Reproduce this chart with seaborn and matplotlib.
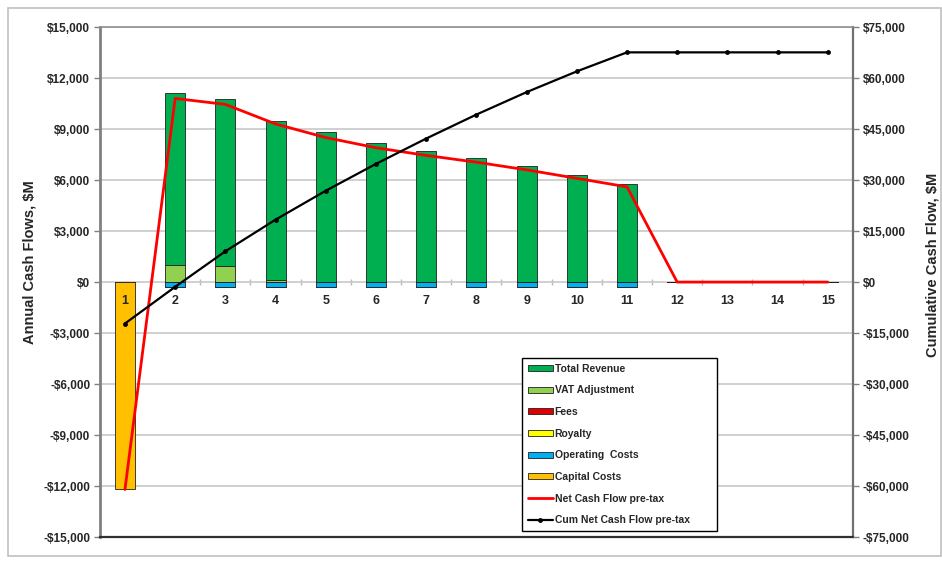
import numpy as np
import pandas as pd
import seaborn as sns
import matplotlib.pyplot as plt
from matplotlib.patches import Rectangle
from matplotlib.ticker import FuncFormatter, MultipleLocator

# ----------------------------------------------------------------------
# DATA ($M)
# ----------------------------------------------------------------------
years = [str(y) for y in range(1, 16)]
total_revenue = [0, 10100, 9800, 9350, 8800, 8180, 7700, 7300, 6800, 6300, 5760, 0, 0, 0, 0]
vat_adjustment = [0, 1000, 950, 150, 0, 0, 0, 0, 0, 0, 0, 0, 0, 0, 0]
fees = [0] * 15
royalty = [0] * 15
operating_costs = [0, -300, -300, -300, -300, -300, -300, -300, -300, -300, -300, 0, 0, 0, 0]
capital_costs = [-12200, 0, 0, 0, 0, 0, 0, 0, 0, 0, 0, 0, 0, 0, 0]
net_cash_flow = [-12200, 10800, 10450, 9300, 8500, 7900, 7450, 7050, 6600, 6100, 5600, 0, 0, 0, 0]
cum_cash_flow = [-12200, -1400, 9050, 18350, 26850, 34750, 42200, 49250, 55850, 61950, 67550,
                 67550, 67550, 67550, 67550]

GREEN = "#00B050"
LIGHT_GREEN = "#92D050"
RED_FEES = "#E00000"
YELLOW = "#FFFF00"
BLUE = "#00B0F0"
ORANGE = "#FFC000"

sns.set_theme(style="white")
plt.rcParams["font.family"] = ["Liberation Sans", "DejaVu Sans"]

df = pd.DataFrame({
    "year": years,
    "revenue": total_revenue,
    "vat": vat_adjustment,
    "fees": fees,
    "royalty": royalty,
    "opex": operating_costs,
    "capex": capital_costs,
})
pos = np.arange(len(years))

fig = plt.figure(figsize=(9.42, 5.63), dpi=100)
ax = fig.add_axes([0.106, 0.046, 0.7994, 0.906])

# stacked bars: positives stack on VAT, negatives stack downward
stack = [
    ("Total Revenue", "revenue", df["vat"], GREEN),
    ("VAT Adjustment", "vat", 0, LIGHT_GREEN),
    ("Fees", "fees", df["opex"], RED_FEES),
    ("Royalty", "royalty", df["opex"] + df["fees"], YELLOW),
    ("Operating  Costs", "opex", 0, BLUE),
    ("Capital Costs", "capex", 0, ORANGE),
]
for name, col, bottom, color in stack:
    sns.barplot(
        data=df, x="year", y=col, bottom=bottom, color=color, saturation=1,
        width=0.4, edgecolor="#202020", linewidth=0.6, label=name, ax=ax,
        zorder=2,
    )

sns.lineplot(x=pos, y=net_cash_flow, color="#FF0000", linewidth=2,
             label="Net Cash Flow pre-tax", legend=False, ax=ax, zorder=3)
if ax.get_legend() is not None:
    ax.get_legend().remove()

ax2 = ax.twinx()
sns.lineplot(x=pos, y=cum_cash_flow, color="black", linewidth=1.6, marker="o",
             markersize=3.5, markeredgewidth=0, label="Cum Net Cash Flow pre-tax",
             legend=False, ax=ax2)

# axes scales
ax.set_xlim(-0.5, 14.5)
ax.set_ylim(-15000, 15000)
ax2.set_ylim(-75000, 75000)
ax.yaxis.set_major_locator(MultipleLocator(3000))
ax2.yaxis.set_major_locator(MultipleLocator(15000))
money = FuncFormatter(lambda v, _: f"-${abs(v):,.0f}" if v < 0 else f"${v:,.0f}")
ax.yaxis.set_major_formatter(money)
ax2.yaxis.set_major_formatter(money)

ax.grid(axis="y", color="#C8C8C8", linewidth=1.2)
ax.grid(axis="x", visible=False)
ax.set_axisbelow(True)

for a in (ax, ax2):
    a.tick_params(axis="y", length=4, width=1, color="#808080", labelsize=8.5, pad=3)
    for lbl in a.get_yticklabels():
        lbl.set_fontweight("bold")

ax.tick_params(axis="y", left=True)
ax2.tick_params(axis="y", right=True)

# category labels just under the zero line
ax.set_xticks([])
ax.set_xlabel("")
for p, yr in zip(pos, years):
    ax.annotate(yr, xy=(p, 0), xytext=(0, -9), textcoords="offset points",
                ha="center", va="top", fontsize=9, fontweight="bold", zorder=5)

# small separators on the zero line
sec = ax.secondary_xaxis(0.5)
sec.xaxis.set_ticks_position("bottom")
sec.set_xticks([])
sec.set_xticks(pos[:-1] + 0.5, minor=True)
sec.tick_params(which="minor", bottom=True, top=False, direction="inout", length=5,
                color="#B8B8B8", labelbottom=False, labeltop=False)
sec.spines["bottom"].set_visible(False)
sec.spines["top"].set_visible(False)

# spines
for a in (ax, ax2):
    for s in a.spines.values():
        s.set_visible(False)
ax.spines["left"].set_visible(True)
ax.spines["left"].set_color("#808080")
ax.spines["left"].set_linewidth(2)
ax.spines["bottom"].set_visible(True)
ax.spines["bottom"].set_color("#303030")
ax.spines["bottom"].set_linewidth(1.6)
ax.spines["top"].set_visible(True)
ax.spines["top"].set_color("#909090")
ax.spines["top"].set_linewidth(1.2)
ax.spines["right"].set_visible(True)
ax.spines["right"].set_color("#707070")
ax.spines["right"].set_linewidth(1.6)

ax.set_ylabel("Annual Cash Flows, $M", fontsize=10.5, fontweight="bold")
ax2.set_ylabel("Cumulative Cash Flow, $M", fontsize=10.5, fontweight="bold")
ax.yaxis.set_label_coords(-0.084, 0.539)
ax2.yaxis.set_label_coords(1.097, 0.533)

# legend
handles = {}
for a in (ax, ax2):
    for h, l in zip(*a.get_legend_handles_labels()):
        handles[l] = h
order = [s[0] for s in stack] + ["Net Cash Flow pre-tax", "Cum Net Cash Flow pre-tax"]
leg = ax2.legend(
    [handles[l] for l in order], order, loc="lower left",
    bbox_to_anchor=(0.5604, 0.012, 0.259, 0.35), mode="expand", borderaxespad=0,
    frameon=True, fancybox=False, framealpha=1, edgecolor="black",
    prop={"weight": "bold", "size": 7.5}, handlelength=2.4, handleheight=0.5,
    handletextpad=0.2, labelspacing=1.12, borderpad=0.55,
)
leg.get_frame().set_linewidth(1)

# outer chart frame
fig.add_artist(Rectangle((0.0085, 0.012), 0.99, 0.974, transform=fig.transFigure,
                         fill=False, edgecolor="#C0C0C0", linewidth=1.2))

plt.savefig("out.png", dpi=100)
plt.close()
